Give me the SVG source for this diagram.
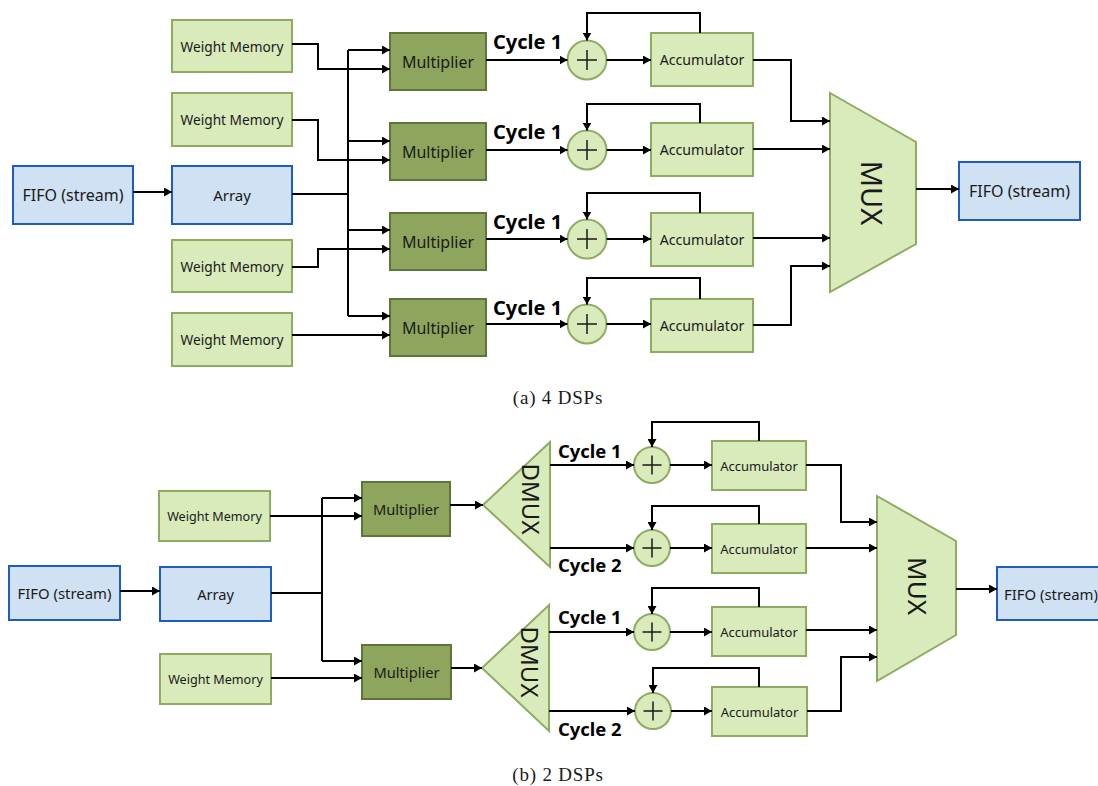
<svg xmlns="http://www.w3.org/2000/svg" width="1098" height="786" viewBox="0 0 1098 786">
  <defs>
    <marker id="arrow" markerUnits="userSpaceOnUse" markerWidth="9" markerHeight="9" refX="8" refY="4.5" orient="auto">
      <path d="M0,0 L8,4.5 L0,9 z" fill="#000"/>
    </marker>
  </defs>
  <style>
    .lt { fill: #d9eabb; stroke: #8fab62; stroke-width: 2; }
    .dk { fill: #8ea55e; stroke: #5e7537; stroke-width: 2; }
    .bl { fill: #cfe1f3; stroke: #1f5cbf; stroke-width: 2; }
    .plus { stroke: #1a1a1a; stroke-width: 1.5; fill: none; }
    .lbl { font-family: "Noto Sans", "Open Sans", sans-serif; fill: #1a1a1a; text-anchor: middle; dominant-baseline: central; }
    .cyc { font-family: "Noto Sans", "Open Sans", sans-serif; font-weight: bold; fill: #000; }
    .cap { font-family: "Liberation Serif", serif; fill: #1a1a1a; text-anchor: middle; font-size: 19px; letter-spacing: 0.8px; }
    .wire { fill: none; stroke: #000; stroke-width: 2; }
    .arr { fill: none; stroke: #000; stroke-width: 2; marker-end: url(#arrow); }
  </style>

  <!-- ===================== (a) 4 DSPs ===================== -->
  <g id="a-fifo-in"><rect class="bl" x="13" y="166" width="120" height="58"/><text class="lbl" x="73" y="195" font-size="16">FIFO (stream)</text></g>
  <g id="a-array"><rect class="bl" x="172" y="166" width="120" height="58"/><text class="lbl" x="232" y="195" font-size="15">Array</text></g>
  <g id="a-wm1"><rect class="lt" x="172" y="20" width="120" height="52"/><text class="lbl" x="232" y="46" font-size="13.7">Weight Memory</text></g>
  <g id="a-wm2"><rect class="lt" x="172" y="93" width="120" height="53"/><text class="lbl" x="232" y="119.5" font-size="13.7">Weight Memory</text></g>
  <g id="a-wm3"><rect class="lt" x="172" y="240" width="120" height="52"/><text class="lbl" x="232" y="266" font-size="13.7">Weight Memory</text></g>
  <g id="a-wm4"><rect class="lt" x="172" y="313" width="120" height="53"/><text class="lbl" x="232" y="339.5" font-size="13.7">Weight Memory</text></g>

  <g id="a-mul1"><rect class="dk" x="390" y="33" width="96" height="57"/><text class="lbl" x="438" y="61.5" font-size="16">Multiplier</text></g>
  <g id="a-mul2"><rect class="dk" x="390" y="123" width="96" height="57"/><text class="lbl" x="438" y="151.5" font-size="16">Multiplier</text></g>
  <g id="a-mul3"><rect class="dk" x="390" y="213" width="96" height="57"/><text class="lbl" x="438" y="241.5" font-size="16">Multiplier</text></g>
  <g id="a-mul4"><rect class="dk" x="390" y="299" width="96" height="57"/><text class="lbl" x="438" y="327.5" font-size="16">Multiplier</text></g>

  <g id="a-add1"><circle class="lt" cx="587" cy="60" r="19.5"/><path class="plus" d="M577,60 H597 M587,50 V70"/></g>
  <g id="a-add2"><circle class="lt" cx="587" cy="150" r="19.5"/><path class="plus" d="M577,150 H597 M587,140 V160"/></g>
  <g id="a-add3"><circle class="lt" cx="587" cy="239" r="19.5"/><path class="plus" d="M577,239 H597 M587,229 V249"/></g>
  <g id="a-add4"><circle class="lt" cx="587" cy="324" r="19.5"/><path class="plus" d="M577,324 H597 M587,314 V334"/></g>

  <g id="a-acc1"><rect class="lt" x="651" y="33" width="102" height="53"/><text class="lbl" x="702" y="59.5" font-size="14.2">Accumulator</text></g>
  <g id="a-acc2"><rect class="lt" x="651" y="123" width="102" height="53"/><text class="lbl" x="702" y="149.5" font-size="14.2">Accumulator</text></g>
  <g id="a-acc3"><rect class="lt" x="651" y="213" width="102" height="53"/><text class="lbl" x="702" y="239.5" font-size="14.2">Accumulator</text></g>
  <g id="a-acc4"><rect class="lt" x="651" y="299" width="102" height="53"/><text class="lbl" x="702" y="325.5" font-size="14.2">Accumulator</text></g>

  <g id="a-mux"><polygon class="lt" points="830,93 916,142 916,244 830,292"/><text class="lbl" x="872" y="193" font-size="29" transform="rotate(90 872 193)">MUX</text></g>
  <g id="a-fifo-out"><rect class="bl" x="959" y="162" width="121" height="58"/><text class="lbl" x="1019.5" y="191" font-size="16">FIFO (stream)</text></g>

  <g id="a-labels">
    <text class="cyc" x="493" y="49" font-size="20">Cycle 1</text>
    <text class="cyc" x="493" y="139" font-size="20">Cycle 1</text>
    <text class="cyc" x="493" y="229" font-size="20">Cycle 1</text>
    <text class="cyc" x="493" y="315" font-size="20">Cycle 1</text>
    <text class="cap" x="558" y="404">(a) 4 DSPs</text>
  </g>

  <g id="a-connectors">
    <path class="arr" d="M133,192 H172"/>
    <path class="wire" d="M292,194 H348"/>
    <path class="wire" d="M348,50 V316"/>
    <path class="arr" d="M348,50 H390"/>
    <path class="arr" d="M348,141 H390"/>
    <path class="arr" d="M348,230 H390"/>
    <path class="arr" d="M348,316 H390"/>
    <path class="arr" d="M292,44 H318 V69 H390"/>
    <path class="arr" d="M292,120 H318 V160 H390"/>
    <path class="arr" d="M292,267 H318 V249 H390"/>
    <path class="arr" d="M292,335 H390"/>
    <path class="arr" d="M486,60 H567.5"/>
    <path class="arr" d="M486,150 H567.5"/>
    <path class="arr" d="M486,239 H567.5"/>
    <path class="arr" d="M486,324 H567.5"/>
    <path class="arr" d="M606.5,60 H651"/>
    <path class="arr" d="M606.5,150 H651"/>
    <path class="arr" d="M606.5,239 H651"/>
    <path class="arr" d="M606.5,324 H651"/>
    <path class="arr" d="M700,33 V13 H587 V40.5"/>
    <path class="arr" d="M700,123 V104 H587 V130.5"/>
    <path class="arr" d="M700,213 V193 H587 V219.5"/>
    <path class="arr" d="M700,299 V278 H587 V304.5"/>
    <path class="arr" d="M753,60 H791 V121 H830"/>
    <path class="arr" d="M753,149 H830"/>
    <path class="arr" d="M753,238 H830"/>
    <path class="arr" d="M753,325 H791 V266 H830"/>
    <path class="arr" d="M916,189 H959"/>
  </g>

  <!-- ===================== (b) 2 DSPs ===================== -->
  <g id="b-fifo-in"><rect class="bl" x="9" y="566" width="111" height="54"/><text class="lbl" x="64.5" y="593" font-size="14.9">FIFO (stream)</text></g>
  <g id="b-array"><rect class="bl" x="160" y="567" width="111" height="54"/><text class="lbl" x="215.5" y="594" font-size="14.6">Array</text></g>
  <g id="b-wm1"><rect class="lt" x="159" y="491" width="111" height="50"/><text class="lbl" x="214.5" y="516" font-size="12.6">Weight Memory</text></g>
  <g id="b-wm2"><rect class="lt" x="160" y="654" width="111" height="50"/><text class="lbl" x="215.5" y="679" font-size="12.6">Weight Memory</text></g>

  <g id="b-mul1"><rect class="dk" x="362" y="482" width="88" height="54"/><text class="lbl" x="406" y="509" font-size="14.7">Multiplier</text></g>
  <g id="b-mul2"><rect class="dk" x="362" y="645" width="89" height="54"/><text class="lbl" x="406.5" y="672" font-size="14.7">Multiplier</text></g>

  <g id="b-dmux1"><polygon class="lt" points="483,505 550,442 550,567"/><text class="lbl" x="531" y="499" font-size="24" transform="rotate(90 531 499)">DMUX</text></g>
  <g id="b-dmux2"><polygon class="lt" points="482,668 549,605 549,731"/><text class="lbl" x="530" y="662" font-size="24" transform="rotate(90 530 662)">DMUX</text></g>

  <g id="b-add1"><circle class="lt" cx="652" cy="465" r="18"/><path class="plus" d="M642.5,465 H661.5 M652,455.5 V474.5"/></g>
  <g id="b-add2"><circle class="lt" cx="652" cy="548" r="18"/><path class="plus" d="M642.5,548 H661.5 M652,538.5 V557.5"/></g>
  <g id="b-add3"><circle class="lt" cx="652" cy="632" r="18"/><path class="plus" d="M642.5,632 H661.5 M652,622.5 V641.5"/></g>
  <g id="b-add4"><circle class="lt" cx="653" cy="711" r="18"/><path class="plus" d="M643.5,711 H662.5 M653,701.5 V720.5"/></g>

  <g id="b-acc1"><rect class="lt" x="712" y="441" width="94" height="49"/><text class="lbl" x="759" y="465.5" font-size="13">Accumulator</text></g>
  <g id="b-acc2"><rect class="lt" x="712" y="524" width="94" height="49"/><text class="lbl" x="759" y="548.5" font-size="13">Accumulator</text></g>
  <g id="b-acc3"><rect class="lt" x="712" y="607" width="94" height="49"/><text class="lbl" x="759" y="631.5" font-size="13">Accumulator</text></g>
  <g id="b-acc4"><rect class="lt" x="712" y="687" width="95" height="49"/><text class="lbl" x="759.5" y="711.5" font-size="13">Accumulator</text></g>

  <g id="b-mux"><polygon class="lt" points="877,496 956,541 956,635 877,681"/><text class="lbl" x="918" y="586" font-size="26" transform="rotate(90 918 586)">MUX</text></g>
  <g id="b-fifo-out"><rect class="bl" x="997" y="567" width="120" height="53"/><text class="lbl" x="1051" y="594" font-size="14.9">FIFO (stream)</text></g>

  <g id="b-labels">
    <text class="cyc" x="558" y="458" font-size="18.4">Cycle 1</text>
    <text class="cyc" x="558" y="572" font-size="18.4">Cycle 2</text>
    <text class="cyc" x="558" y="624" font-size="18.4">Cycle 1</text>
    <text class="cyc" x="558" y="736" font-size="18.4">Cycle 2</text>
    <text class="cap" x="558" y="781">(b) 2 DSPs</text>
  </g>

  <g id="b-connectors">
    <path class="arr" d="M120,591 H160"/>
    <path class="wire" d="M271,593 H322"/>
    <path class="wire" d="M322,498 V661"/>
    <path class="arr" d="M322,498 H362"/>
    <path class="arr" d="M322,661 H362"/>
    <path class="arr" d="M270,516 H362"/>
    <path class="arr" d="M271,678 H362"/>
    <path class="arr" d="M450,505 H483"/>
    <path class="arr" d="M451,668 H482"/>
    <path class="arr" d="M550,465 H634"/>
    <path class="arr" d="M550,548 H634"/>
    <path class="arr" d="M549,632 H634"/>
    <path class="arr" d="M549,711 H635"/>
    <path class="arr" d="M670,465 H712"/>
    <path class="arr" d="M670,548 H712"/>
    <path class="arr" d="M670,632 H712"/>
    <path class="arr" d="M671,711 H712"/>
    <path class="arr" d="M759,441 V422 H652 V447"/>
    <path class="arr" d="M759,524 V506 H652 V530"/>
    <path class="arr" d="M759,607 V588 H652 V614"/>
    <path class="arr" d="M759,687 V668 H653 V693"/>
    <path class="arr" d="M806,465 H841 V522 H877"/>
    <path class="arr" d="M806,548 H877"/>
    <path class="arr" d="M806,630 H877"/>
    <path class="arr" d="M807,711 H841 V657 H877"/>
    <path class="arr" d="M956,589 H997"/>
  </g>
</svg>
